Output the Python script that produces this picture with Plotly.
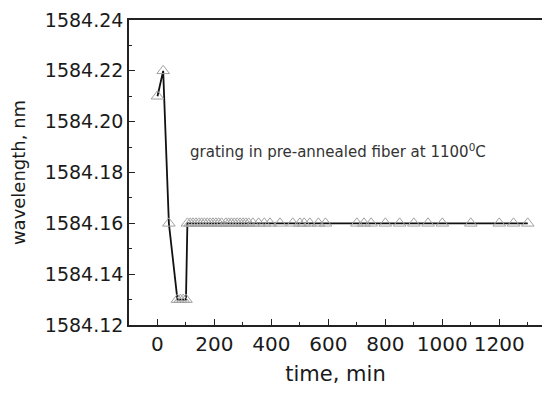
import plotly.graph_objects as go

time_min = [0, 20, 40, 70, 80, 90, 100,
            105, 115, 125, 135, 145, 155, 165, 175, 185, 195, 205, 215, 225,
            240, 250, 260, 270, 280, 290, 300, 310, 320,
            335, 355, 375, 395, 430, 475, 500, 515, 535, 565, 590,
            700, 725, 750, 800, 850, 900, 950, 1000, 1100, 1200, 1250, 1300]
wavelength_nm = [1584.21, 1584.22, 1584.16, 1584.13, 1584.13, 1584.13, 1584.13] + \
    [1584.16] * (len(time_min) - 7)

annotation_text = "grating in pre-annealed fiber at 1100<sup>0</sup>C"

FONT = "DejaVu Sans, Liberation Sans, Arial, sans-serif"
INK = "#1a1a1a"

fig = go.Figure()
fig.add_trace(go.Scatter(
    x=time_min, y=wavelength_nm, mode="lines+markers",
    line=dict(color="#111111", width=1.8),
    marker=dict(symbol="triangle-up-open", size=11, color="#a0a0a0",
                line=dict(width=1, color="#a0a0a0")),
    showlegend=False,
))

fig.add_annotation(x=0.507, y=0.57, xref="paper", yref="paper",
                   text=annotation_text, showarrow=False,
                   font=dict(family=FONT, size=15, color="#333333"))

axis_common = dict(showline=True, linecolor="#222222", linewidth=1.6, mirror=True,
                   ticks="inside", ticklen=6, tickwidth=1.2, tickcolor="#222222",
                   showgrid=False, zeroline=False, automargin=False)

fig.update_xaxes(range=[-100, 1350], dtick=200, tick0=0,
                 tickfont=dict(family=FONT, size=20, color=INK),
                 minor=dict(ticks="inside", ticklen=3, dtick=100, tick0=0, tickcolor="#222222"),
                 title=dict(text="time, min", font=dict(family=FONT, size=21, color=INK), standoff=12),
                 **axis_common)
fig.update_yaxes(range=[1584.12, 1584.24], dtick=0.02, tick0=1584.12, tickformat=".2f",
                 tickfont=dict(family=FONT, size=19, color=INK), ticklabelstandoff=0,
                 minor=dict(ticks="inside", ticklen=3, dtick=0.01, tickcolor="#222222"),
                 title=dict(text="wavelength, nm", font=dict(family=FONT, size=18, color=INK), standoff=19),
                 **axis_common)

fig.update_layout(width=550, height=395, margin=dict(l=121, r=16, t=12, b=78),
                  plot_bgcolor="white", paper_bgcolor="white")

fig.write_html("out.html")
